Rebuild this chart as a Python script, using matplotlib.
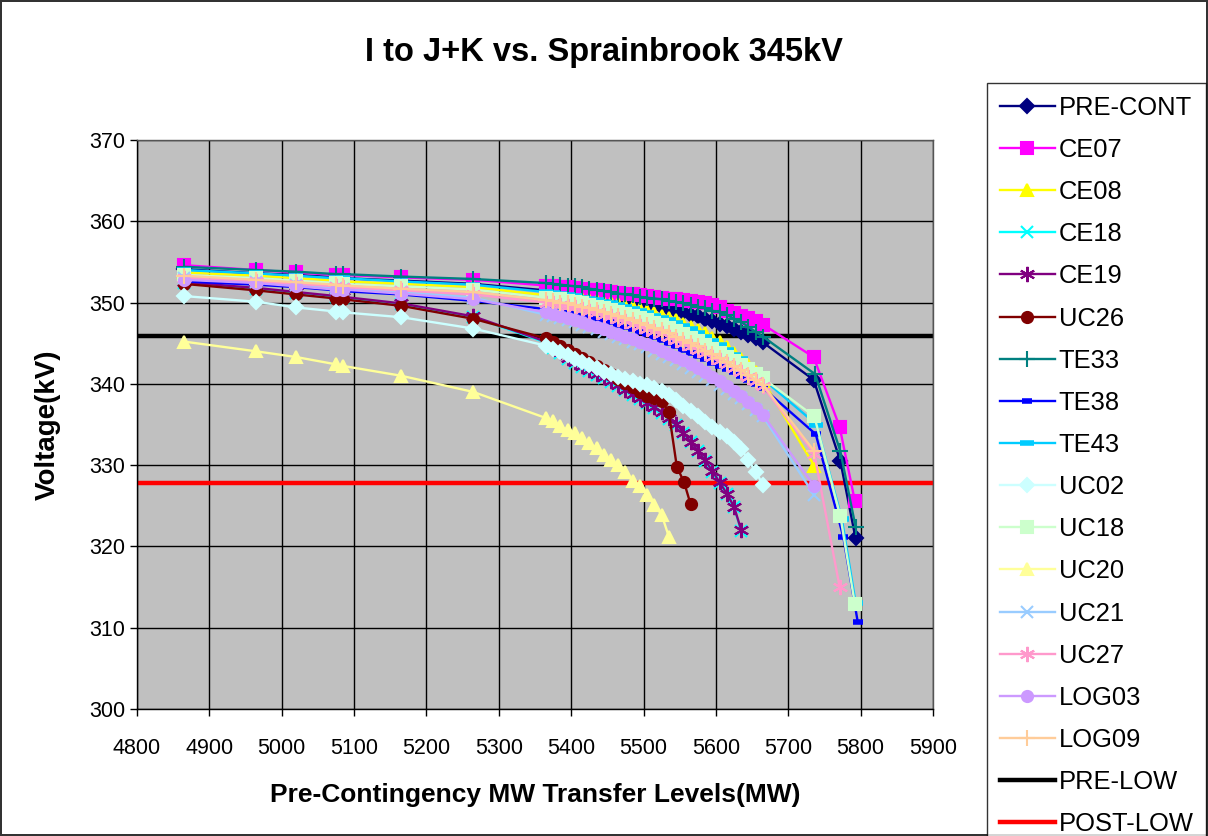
import matplotlib
matplotlib.use('Agg')
import matplotlib.pyplot as plt

plt.rcParams['font.family'] = ['Liberation Sans', 'DejaVu Sans']

# transfer levels (MW) shared by all cases
X_START = [4865, 4965, 5020, 5075, 5085, 5165, 5265]
X_DENSE = [5365, 5375, 5385, 5395, 5405, 5415, 5425, 5435, 5445, 5455,
           5465, 5475, 5485, 5495, 5505, 5515, 5525, 5535, 5545, 5555,
           5565, 5575, 5585, 5595, 5605, 5615, 5625, 5635, 5645, 5655, 5665]

# voltages (kV): start part, dense part, tail
pre_cont = [354.1, 353.6, 353.4, 353.1, 353.0, 352.7, 352.3,
            351.5, 351.4, 351.3, 351.1, 351.0, 350.9, 350.8, 350.7, 350.6, 350.5,
            350.4, 350.2, 350.1, 349.9, 349.8, 349.6, 349.4, 349.2, 349.0, 348.8,
            348.5, 348.3, 348.0, 347.7, 347.4, 347.1, 346.8, 346.4, 346.0, 345.6, 345.1,
            340.5, 330.5, 321.0]
pre_cont_tail = [5735, 5772, 5793]

ce07 = [354.6, 354.0, 353.7, 353.4, 353.4, 353.1, 352.8,
        352.1, 352.0, 351.9, 351.9, 351.8, 351.7, 351.6, 351.5, 351.4, 351.3,
        351.2, 351.1, 351.0, 350.9, 350.8, 350.7, 350.6, 350.5, 350.4, 350.3,
        350.2, 350.1, 350.0, 349.7, 349.4, 349.0, 348.7, 348.4, 348.1, 347.7, 347.3,
        343.3, 334.7, 325.6]
ce07_tail = [5735, 5771, 5792]

ce08 = [353.7, 353.3, 353.0, 352.7, 352.6, 352.3, 351.9,
        350.9, 350.8, 350.7, 350.6, 350.5, 350.4, 350.3, 350.2, 350.0, 349.9,
        349.8, 349.6, 349.4, 349.2, 349.0, 348.7, 348.4, 348.1, 347.8, 347.4,
        347.0, 346.6, 346.2, 345.7, 345.1, 344.5, 343.8, 343.1, 342.3, 341.4, 340.4,
        329.9]
ce08_tail = [5736]

ce19 = [352.5, 351.8, 351.3, 350.8, 350.7, 349.9, 348.3,
        345.2, 344.5, 343.9, 343.2, 342.7, 342.2, 341.7, 341.2, 340.8, 340.3,
        339.8, 339.3, 338.7, 338.2, 337.7, 337.1, 336.5, 335.8, 335.1, 334.0,
        332.9, 331.8, 330.6, 329.3, 327.9, 326.5, 324.9, 322.0]
ce19_tail = []

ce18 = [352.4, 351.7, 351.2, 350.7, 350.6, 349.8, 348.2,
        345.1, 344.4, 343.8, 343.1, 342.6, 342.1, 341.6, 341.1, 340.7, 340.2,
        339.7, 339.2, 338.6, 338.1, 337.6, 337.0, 336.4, 335.7, 335.0, 333.9,
        332.8, 331.7, 330.5, 329.2, 327.8, 326.4, 324.8, 321.9]
ce18_tail = []

uc26 = [352.3, 351.5, 351.0, 350.5, 350.4, 349.6, 348.0,
        345.6, 345.1, 344.6, 344.2, 343.7, 343.2, 342.7, 342.2, 341.7, 341.2,
        340.6, 340.1, 339.6, 339.0, 338.5, 338.2, 337.9, 336.5,
        329.8, 327.9, 325.2]
uc26_tail = [5546, 5556, 5565]

te33 = [354.4, 354.0, 353.8, 353.5, 353.5, 353.2, 352.9,
        352.4, 352.3, 352.2, 352.1, 352.0, 351.9, 351.7, 351.6, 351.4, 351.3,
        351.1, 351.0, 350.9, 350.7, 350.6, 350.5, 350.4, 350.2, 350.1, 349.9,
        349.7, 349.5, 349.3, 349.0, 348.8, 348.5, 348.0, 347.6, 347.0, 346.4, 345.8,
        341.2, 331.7, 322.4]
te33_tail = [5737, 5772, 5793]

te38 = [352.6, 352.2, 351.9, 351.5, 351.4, 351.0, 350.2,
        349.2, 349.1, 348.9, 348.8, 348.6, 348.4, 348.2, 348.0, 347.8, 347.6,
        347.3, 347.0, 346.7, 346.4, 346.1, 345.8, 345.4, 345.0, 344.6, 344.2,
        343.8, 343.4, 343.0, 342.6, 342.2, 341.8, 341.4, 341.0, 340.5, 340.0, 339.5,
        333.8, 321.2, 310.7]
te38_tail = [5738, 5776, 5796]

te43 = [354.0, 353.6, 353.3, 353.0, 353.0, 352.6, 352.2,
        351.3, 351.2, 351.1, 350.9, 350.8, 350.6, 350.5, 350.3, 350.1, 349.9,
        349.7, 349.5, 349.2, 349.0, 348.7, 348.4, 348.1, 347.8, 347.5, 347.1,
        346.7, 346.3, 345.8, 345.3, 344.8, 344.2, 343.6, 343.0, 342.3, 341.5, 340.6,
        335.0, 323.4, 313.1]
te43_tail = [5739, 5774, 5793]

uc02 = [350.8, 350.1, 349.4, 348.9, 348.8, 348.2, 346.8,
        344.7, 344.3, 343.9, 343.5, 343.1, 342.7, 342.3, 341.9, 341.5, 341.2,
        340.9, 340.6, 340.3, 340.0, 339.8, 339.5, 339.1, 338.6, 338.0, 337.3,
        336.6, 336.0, 335.3, 334.7, 334.1, 333.6, 332.9, 332.0, 330.6, 329.2, 327.6]
uc02_tail = []

uc18 = [353.4, 353.0, 352.7, 352.4, 352.3, 352.0, 351.6,
        350.6, 350.5, 350.4, 350.2, 350.1, 349.9, 349.7, 349.5, 349.3, 349.1,
        348.9, 348.6, 348.4, 348.1, 347.8, 347.5, 347.2, 346.9, 346.5, 346.1,
        345.7, 345.3, 344.8, 344.3, 343.8, 343.3, 342.8, 342.3, 341.8, 341.2, 340.7,
        336.0, 323.7, 312.9]
uc18_tail = [5736, 5772, 5792]

uc20 = [345.2, 344.0, 343.3, 342.4, 342.2, 341.0, 339.0,
        335.8, 335.4, 334.8, 334.3, 333.9, 333.3, 332.7, 332.1, 331.3, 330.6,
        330.0, 329.2, 328.0, 327.4, 326.3, 325.1, 323.9, 321.2]
uc20_tail = []

uc21 = [353.0, 352.5, 352.2, 351.8, 351.7, 351.3, 350.6,
        348.5, 348.3, 348.1, 347.9, 347.6, 347.3, 347.0, 346.7, 346.4, 346.1,
        345.8, 345.5, 345.2, 344.9, 344.5, 344.1, 343.7, 343.3, 342.9, 342.5,
        342.0, 341.5, 341.0, 340.5, 339.9, 339.4, 338.8, 338.2, 337.5, 336.8, 336.0,
        326.3]
uc21_tail = [5736]

uc27 = [353.0, 352.6, 352.3, 352.0, 351.9, 351.5, 351.0,
        350.0, 349.9, 349.7, 349.6, 349.4, 349.2, 349.0, 348.8, 348.5, 348.3,
        348.0, 347.7, 347.4, 347.1, 346.8, 346.5, 346.2, 345.8, 345.4, 345.0,
        344.6, 344.2, 343.8, 343.3, 342.9, 342.4, 341.9, 341.4, 340.9, 340.3, 339.7,
        331.4, 315.0]
uc27_tail = [5736, 5771]

log03 = [352.8, 352.4, 352.0, 351.6, 351.6, 351.1, 350.4,
         348.8, 348.6, 348.4, 348.1, 347.9, 347.6, 347.3, 347.0, 346.7, 346.4,
         346.1, 345.8, 345.5, 345.2, 344.9, 344.5, 344.1, 343.7, 343.3, 342.9,
         342.4, 341.9, 341.4, 340.9, 340.3, 339.7, 339.1, 338.5, 337.8, 337.0, 336.2,
         327.4]
log03_tail = [5736]

log09 = [353.3, 352.8, 352.5, 352.2, 352.1, 351.7, 351.3,
         350.3, 350.2, 350.0, 349.9, 349.7, 349.5, 349.3, 349.1, 348.9, 348.6,
         348.4, 348.1, 347.8, 347.5, 347.2, 346.9, 346.6, 346.2, 345.8, 345.4,
         345.0, 344.6, 344.1, 343.7, 343.2, 342.7, 342.2, 341.7, 341.1, 340.5, 339.9,
         331.7]
log09_tail = [5736]

pre_low = 345.9
post_low = 327.8

ASTER = (6, 2, 0)
series = [
    ('PRE-CONT', pre_cont, pre_cont_tail, '#000080', 'D', 7),
    ('CE07', ce07, ce07_tail, '#FF00FF', 's', 8),
    ('CE08', ce08, ce08_tail, '#FFFF00', '^', 9),
    ('CE18', ce18, ce18_tail, '#00FFFF', 'x', 9),
    ('CE19', ce19, ce19_tail, '#800080', ASTER, 11),
    ('UC26', uc26, uc26_tail, '#800000', 'o', 8),
    ('TE33', te33, te33_tail, '#008080', '+', 12),
    ('TE38', te38, te38_tail, '#0000FF', '_', 7),
    ('TE43', te43, te43_tail, '#00CCFF', '_', 10),
    ('UC02', uc02, uc02_tail, '#CCFFFF', 'D', 7),
    ('UC18', uc18, uc18_tail, '#CCFFCC', 's', 8),
    ('UC20', uc20, uc20_tail, '#FFFF99', '^', 9),
    ('UC21', uc21, uc21_tail, '#99CCFF', 'x', 9),
    ('UC27', uc27, uc27_tail, '#FF99CC', ASTER, 11),
    ('LOG03', log03, log03_tail, '#CC99FF', 'o', 8),
    ('LOG09', log09, log09_tail, '#FFCC99', '+', 12),
]

fig = plt.figure(figsize=(12.08, 8.36), dpi=100, linewidth=1.5, edgecolor='#333333')
ax = fig.add_axes([137 / 1208, 1 - 709 / 836, 796 / 1208, 569 / 836])
ax.set_facecolor('#C0C0C0')

handles = []
for name, ys, tail, color, mk, ms in series:
    n_dense = len(ys) - len(X_START) - len(tail)
    xs = X_START + X_DENSE[:n_dense] + tail
    mew = 1.5
    if mk == '_':
        mew = 4
    line, = ax.plot(xs, ys, color=color, lw=1.7, marker=mk, markersize=ms,
                    markerfacecolor=color, markeredgecolor=color,
                    markeredgewidth=mew, label=name, zorder=3)
    handles.append(line)

h1 = ax.axhline(pre_low, color='black', lw=3.2, zorder=2, label='PRE-LOW')
h2 = ax.axhline(post_low, color='#FF0000', lw=3.2, zorder=2, label='POST-LOW')
handles += [h1, h2]

ax.set_xlim(4800, 5900)
ax.set_ylim(300, 370)
ax.set_xticks(range(4800, 5901, 100))
ax.set_yticks(range(300, 371, 10))
ax.grid(True, color='black', lw=1.0, zorder=1)
ax.set_axisbelow(True)
ax.tick_params(labelsize=15.5, direction='out', length=5, width=1)
ax.tick_params(axis='x', pad=16)
for sp in ax.spines.values():
    sp.set_color('#555555')
    sp.set_linewidth(1)
ax.spines['left'].set_color('black')
ax.spines['bottom'].set_color('black')

ax.set_xlabel('Pre-Contingency MW Transfer Levels(MW)', fontsize=19,
              fontweight='bold', labelpad=17)
ax.set_ylabel('Voltage(kV)', fontsize=20, fontweight='bold', labelpad=20)
fig.text(604 / 1208, 1 - 52 / 836, 'I to J+K vs. Sprainbrook 345kV', fontsize=23.5,
         fontweight='bold', ha='center', va='center')

leg = fig.legend(handles=handles, loc='upper left',
                 bbox_to_anchor=(987 / 1208, 1 - 83 / 836), fontsize=18.4,
                 frameon=True, fancybox=False, edgecolor='black',
                 handlelength=2.15, handletextpad=0.15, labelspacing=0.71,
                 borderpad=0.5, borderaxespad=0)
leg.get_frame().set_linewidth(1.0)

fig.savefig('out.png', dpi=100, edgecolor=fig.get_edgecolor())
plt.close(fig)
